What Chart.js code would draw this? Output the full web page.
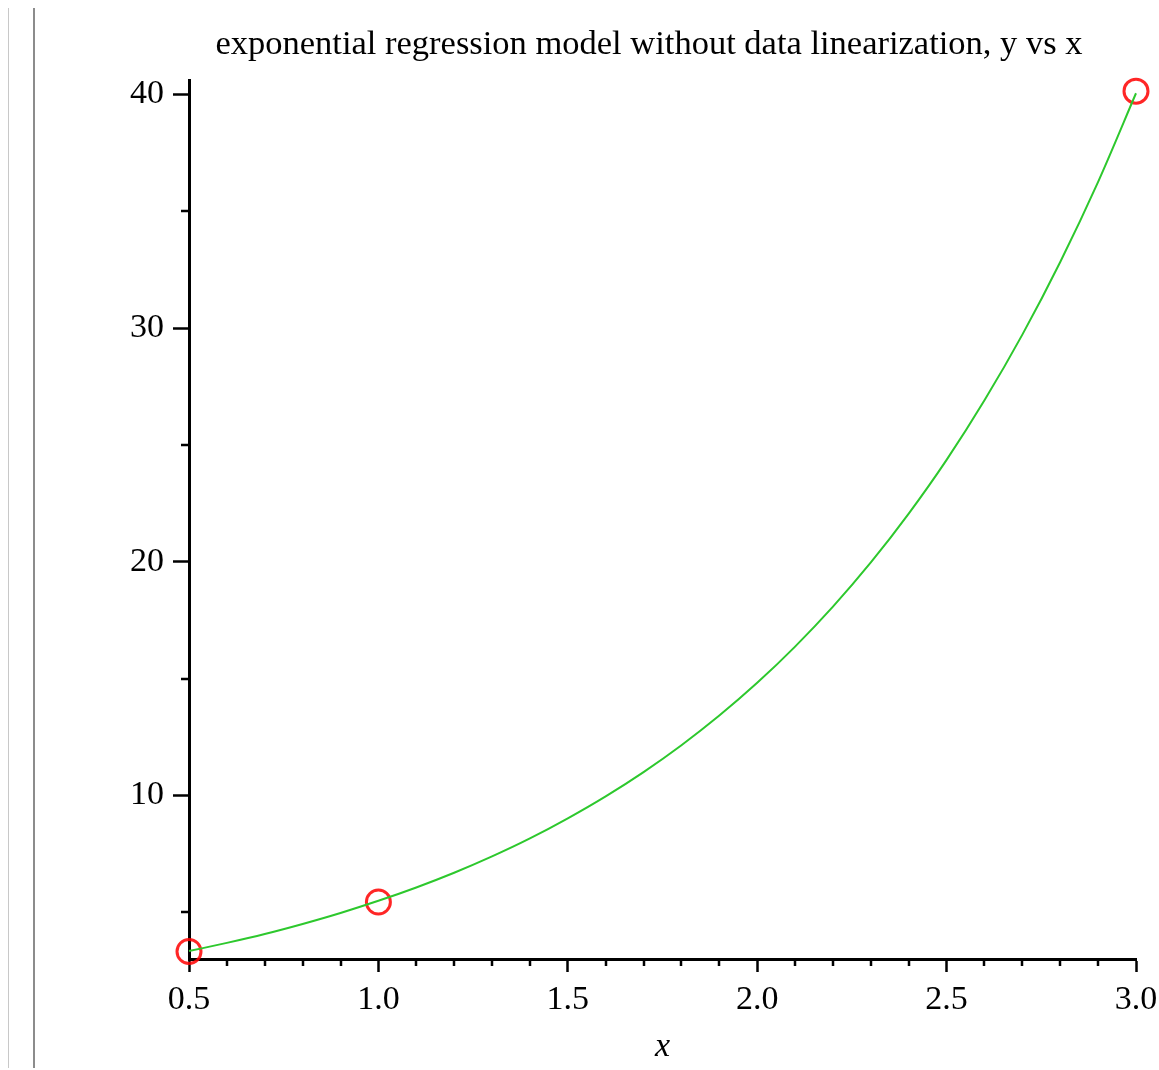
<!DOCTYPE html>
<html>
<head>
<meta charset="utf-8">
<script src="https://cdn.jsdelivr.net/npm/chart.js@4/dist/chart.umd.min.js"></script>
<style>
  html, body { margin: 0; padding: 0; background: #fff; }
  #wrap { position: relative; width: 1159px; height: 1070px; }
  #c { position: absolute; left: 0; top: 0; }
  .vline { position: absolute; top: 8px; bottom: 2px; }
</style>
</head>
<body>
<div id="wrap">
  <div class="vline" style="left:8px;width:1px;background:#c8c8c8;"></div>
  <div class="vline" style="left:33px;width:2px;background:#8c8c8c;"></div>
  <canvas id="c" width="1159" height="1070"></canvas>
</div>
<script>
// ---- data ----
const chartTitle = "exponential regression model without data linearization, y vs x";
const xAxisTitle = "x";

const dataX = [0.5, 1.0, 3.0];
const dataY = [3.32, 5.44, 40.14];

const curveX = [0.5, 0.6, 0.7, 0.8, 0.9, 1.0, 1.1, 1.2, 1.3, 1.4, 1.5, 1.6, 1.7,
                1.8, 1.9, 2.0, 2.1, 2.2, 2.3, 2.4, 2.5, 2.6, 2.7, 2.8, 2.9, 3.0];
const curveY = [3.34, 3.69, 4.07, 4.50, 4.97, 5.49, 6.06, 6.69, 7.39, 8.16, 9.02, 9.96, 11.00,
                12.15, 13.42, 14.82, 16.37, 18.08, 19.97, 22.06, 24.36, 26.91, 29.72, 32.83, 36.26, 40.05];

const xMajorTicks = [0.5, 1.0, 1.5, 2.0, 2.5, 3.0];
const xMinorTicks = [0.6, 0.7, 0.8, 0.9, 1.1, 1.2, 1.3, 1.4, 1.6, 1.7, 1.8, 1.9,
                     2.1, 2.2, 2.3, 2.4, 2.6, 2.7, 2.8, 2.9];
const yMajorTicks = [10, 20, 30, 40];
const yMinorTicks = [5, 15, 25, 35];
const xRange = [0.5, 3.0];
const yRange = [3.0, 40.6];

// ---- chart ----
const FONT = "'Liberation Serif', 'Times New Roman', serif";

const minorTicks = {
  id: 'minorTicks',
  afterLayout(chart) {
    // centre the title the way the original does
    const t = chart.titleBlock;
    if (t) { t.left = 162; t.right = chart.chartArea.right; t.width = t.right - t.left; }
  },
  afterDraw(chart) {
    const ctx = chart.ctx;
    const xs = chart.scales.x, ys = chart.scales.y;
    ctx.save();
    ctx.strokeStyle = '#000';
    ctx.lineWidth = 2.5;
    ctx.beginPath();
    xMinorTicks.forEach(v => {
      const p = Math.round(xs.getPixelForValue(v));
      ctx.moveTo(p, xs.top);
      ctx.lineTo(p, xs.top + 7);
    });
    yMinorTicks.forEach(v => {
      const p = Math.round(ys.getPixelForValue(v));
      ctx.moveTo(ys.right, p);
      ctx.lineTo(ys.right - 8, p);
    });
    ctx.stroke();
    ctx.restore();
  }
};

new Chart(document.getElementById('c'), {
  type: 'scatter',
  data: {
    datasets: [
      {
        type: 'line',
        label: 'model',
        data: curveX.map((x, i) => ({ x: x, y: curveY[i] })),
        borderColor: 'rgb(45, 200, 45)',
        borderWidth: 2,
        pointRadius: 0,
        fill: false,
        cubicInterpolationMode: 'monotone',
        clip: false
      },
      {
        label: 'data',
        data: dataX.map((x, i) => ({ x: x, y: dataY[i] })),
        showLine: false,
        pointStyle: 'circle',
        pointRadius: 12,
        pointBorderWidth: 3,
        borderColor: 'rgba(255, 0, 0, 0.85)',
        backgroundColor: 'rgba(0,0,0,0)',
        clip: false
      }
    ]
  },
  options: {
    responsive: false,
    animation: false,
    devicePixelRatio: 1,
    layout: { padding: { left: 0, right: 23, top: 0, bottom: 0 } },
    plugins: {
      legend: { display: false },
      tooltip: { enabled: false },
      title: {
        display: true,
        text: chartTitle,
        color: '#000',
        font: { family: FONT, size: 34.5, weight: 'normal' },
        padding: { top: 24, bottom: 15 }
      }
    },
    scales: {
      x: {
        type: 'linear',
        position: 'bottom',
        min: xRange[0],
        max: xRange[1],
        afterBuildTicks: s => { s.ticks = xMajorTicks.map(v => ({ value: v })); },
        afterFit: s => { s.height = 111; s.paddingLeft = 0; s.paddingRight = 0; },
        ticks: {
          color: '#000',
          padding: 8,
          maxRotation: 0,
          autoSkip: false,
          font: { family: FONT, size: 34 },
          callback: v => Number(v).toFixed(1)
        },
        grid: {
          drawOnChartArea: false,
          drawTicks: true,
          tickLength: 13,
          tickColor: '#000',
          tickWidth: 2.5
        },
        border: { display: true, color: '#000', width: 3 },
        title: {
          display: true,
          text: xAxisTitle,
          color: '#000',
          font: { family: FONT, size: 34, style: 'italic' },
          padding: { top: 0, bottom: 3 }
        }
      },
      y: {
        type: 'linear',
        position: 'left',
        min: yRange[0],
        max: yRange[1],
        afterBuildTicks: s => { s.ticks = yMajorTicks.map(v => ({ value: v })); },
        afterFit: s => { s.width = 189; s.paddingTop = 0; s.paddingBottom = 0; },
        ticks: {
          color: '#000',
          padding: 9,
          autoSkip: false,
          font: { family: FONT, size: 34 },
          callback: v => String(v)
        },
        grid: {
          drawOnChartArea: false,
          drawTicks: true,
          tickLength: 16,
          tickColor: '#000',
          tickWidth: 2.5
        },
        border: { display: true, color: '#000', width: 3 }
      }
    }
  },
  plugins: [minorTicks]
});
</script>
</body>
</html>
